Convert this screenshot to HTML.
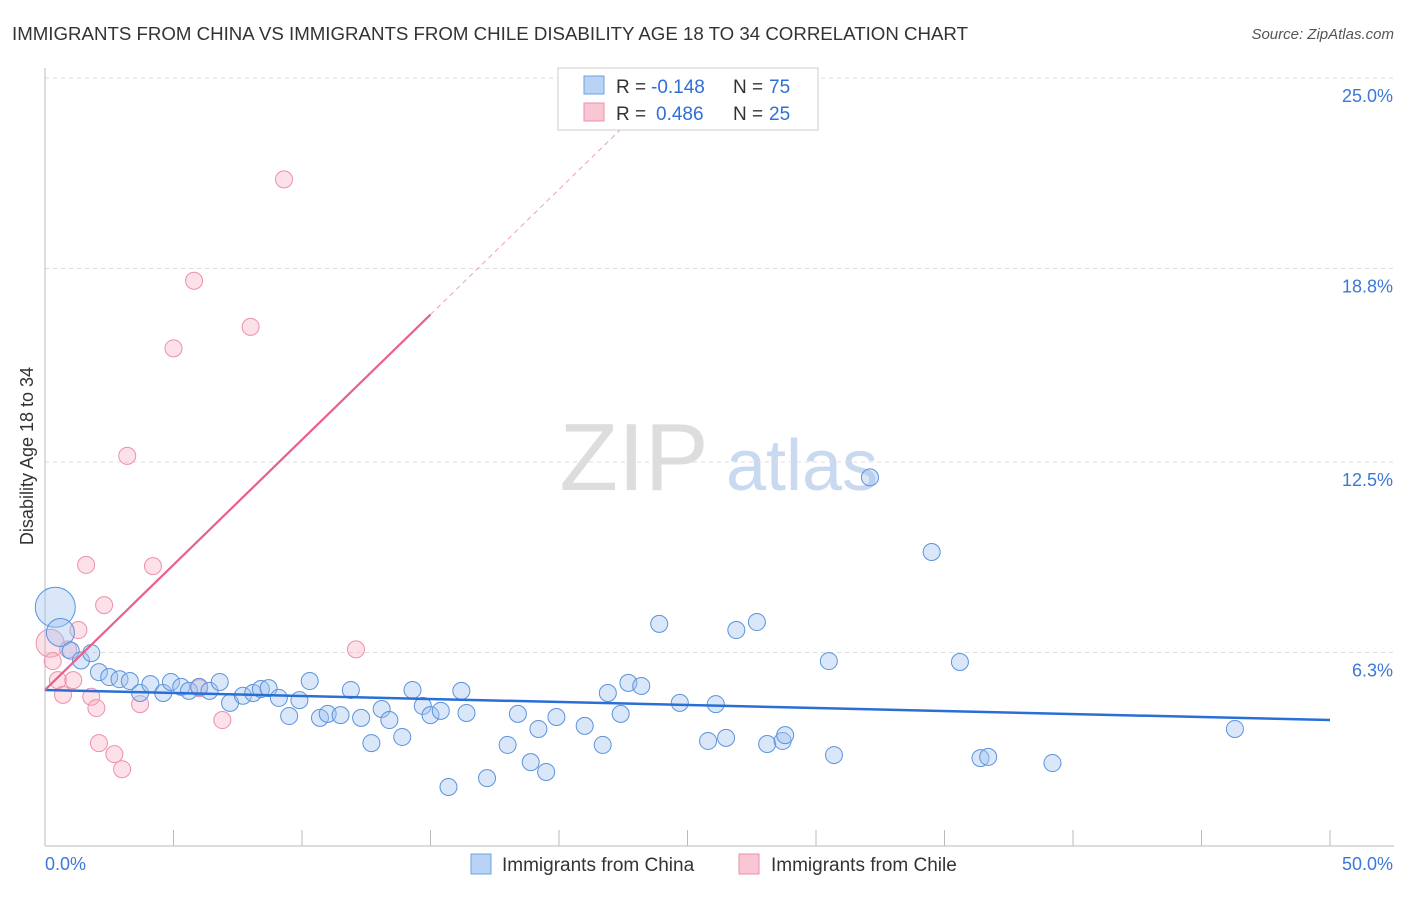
<!DOCTYPE html>
<html><head><meta charset="utf-8"><style>
body{margin:0;background:#fff;font-family:"Liberation Sans",sans-serif;}
svg text{font-family:"Liberation Sans",sans-serif;}
</style></head><body>
<svg width="1406" height="892" id="chart">
<text x="12" y="40" font-size="18" fill="#333" textLength="956" lengthAdjust="spacingAndGlyphs">IMMIGRANTS FROM CHINA VS IMMIGRANTS FROM CHILE DISABILITY AGE 18 TO 34 CORRELATION CHART</text>
<text x="1394" y="39" font-size="15" fill="#555" text-anchor="end" font-style="italic">Source: ZipAtlas.com</text>
<text x="33" y="456" font-size="18" fill="#333" text-anchor="middle" transform="rotate(-90 33 456)">Disability Age 18 to 34</text>
<g><text x="634" y="490" font-size="96" fill="#ddd" text-anchor="middle" font-family="Liberation Serif">ZIP</text><text x="802" y="490" font-size="72" fill="#c8d9f0" text-anchor="middle">atlas</text></g>
<g id="grid"></g><g id="axes"></g><g id="pts"></g><g id="lines"></g>
<g>
<rect x="558" y="68" width="260" height="62" fill="#fff" stroke="#ccc"/>
<rect x="584" y="76" width="20" height="18" fill="#b8d3f5" stroke="#6fa0e0"/>
<text x="616" y="93" font-size="19" fill="#333">R =</text>
<text x="651" y="93" font-size="19" fill="#2f6fd6">-0.148</text>
<text x="733" y="93" font-size="19" fill="#333">N =</text>
<text x="769" y="93" font-size="19" fill="#2f6fd6">75</text>
<rect x="584" y="103" width="20" height="18" fill="#f9c6d4" stroke="#ee8fab"/>
<text x="616" y="120" font-size="19" fill="#333">R =</text>
<text x="656" y="120" font-size="19" fill="#2f6fd6">0.486</text>
<text x="733" y="120" font-size="19" fill="#333">N =</text>
<text x="769" y="120" font-size="19" fill="#2f6fd6">25</text>
</g>
<g>
<rect x="471" y="854" width="20" height="20" fill="#b8d3f5" stroke="#6fa0e0"/>
<text x="502" y="871" font-size="19" fill="#333">Immigrants from China</text>
<rect x="739" y="854" width="20" height="20" fill="#f9c6d4" stroke="#ee8fab"/>
<text x="771" y="871" font-size="19" fill="#333">Immigrants from Chile</text>
</g>
</svg>
<script>
const yTicks=[25.0,18.8,12.5,6.3];
const yTickLabels=["25.0%","18.8%","12.5%","6.3%"];
const xTickLabels=["0.0%","50.0%"];
const chinaX=[0.4,0.6,1,1.4,1.8,2.1,2.5,2.9,3.3,3.7,4.1,4.6,4.9,5.3,5.6,6,6.4,6.8,7.2,7.7,8.1,8.4,8.7,9.1,9.5,9.9,10.3,10.7,11,11.5,11.9,12.3,12.7,13.1,13.4,13.9,14.3,14.7,15,15.4,15.7,16.2,16.4,17.2,18,18.4,18.9,19.2,19.5,19.9,21,21.7,21.9,22.4,22.7,23.2,23.9,24.7,25.8,26.1,26.5,26.9,27.7,28.1,28.7,28.8,30.5,30.7,32.1,34.5,35.6,36.4,36.7,39.2,46.3];
const chinaY=[7.77,6.95,6.36,6.04,6.28,5.66,5.5,5.43,5.37,4.98,5.27,4.98,5.34,5.18,5.05,5.18,5.05,5.34,4.66,4.89,4.98,5.11,5.14,4.82,4.23,4.75,5.37,4.17,4.3,4.26,5.08,4.17,3.35,4.46,4.1,3.55,5.08,4.56,4.26,4.4,1.92,5.05,4.33,2.21,3.29,4.3,2.73,3.81,2.41,4.2,3.91,3.29,4.98,4.3,5.31,5.21,7.23,4.66,3.42,4.62,3.52,7.03,7.29,3.32,3.42,3.61,6.02,2.96,12.0,9.57,5.99,2.86,2.9,2.7,3.81];
const chileX=[0.2,0.3,0.5,0.7,0.9,1.1,1.3,1.6,1.8,2,2.1,2.3,2.7,3,3.2,3.7,4.2,5,5.8,6,6.9,8,9.3,12.1];
const chileY=[6.6,6.02,5.4,4.92,6.4,5.4,7.03,9.15,4.86,4.49,3.35,7.84,2.99,2.5,12.7,4.62,9.11,16.2,18.4,5.14,4.1,16.9,21.7,6.4];
const chinaSizes=[20,14];
const X=v=>45+v/50*1285, Y=v=>846-v/6.25*192;
const NS="http://www.w3.org/2000/svg";
function mk(t,a,p){const e=document.createElementNS(NS,t);for(const k in a)e.setAttribute(k,a[k]);document.getElementById(p).appendChild(e);return e;}
yTicks.forEach((t,i)=>{
 const l=mk('line',{x1:45,x2:1394,y1:Y(t),y2:Y(t),stroke:'#ddd','stroke-dasharray':'4,4'},'grid');
 
 
 const tx=mk('text',{x:1393,y:Y(t)+24,'font-size':18,fill:'#3b78d8','text-anchor':'end'},'grid');tx.textContent=yTickLabels[i];
 
 
});
const ax=mk('line',{x1:45,x2:45,y1:68,y2:846,stroke:'#bbb'},'axes');


const bx=mk('line',{x1:45,x2:1394,y1:846,y2:846,stroke:'#bbb'},'axes');


for(let i=0;i<=10;i++){const t=mk('line',{x1:X(i*5),x2:X(i*5),y1:830,y2:846,stroke:'#bbb'},'axes');
 
 }
[[0,45,'start'],[50,1393,'end']].forEach((d,i)=>{const t=mk('text',{x:d[1],y:870,'font-size':18,fill:'#3b78d8','text-anchor':d[2]},'axes');t.textContent=xTickLabels[i];
 
 });
chileX.forEach((x,i)=>{const c=mk('circle',{cx:X(x),cy:Y(chileY[i]),r:i==0?14:8.5,fill:'rgba(246,168,190,0.35)',stroke:'#ee8fab','stroke-width':1},'pts');
 
 });
chinaX.forEach((x,i)=>{const c=mk('circle',{cx:X(x),cy:Y(chinaY[i]),r:chinaSizes[i]||8.5,fill:'rgba(160,195,240,0.4)',stroke:'#5b93dc','stroke-width':1},'pts');
 
 });
const bl=mk('line',{x1:X(0),y1:Y(5.08),x2:X(50),y2:Y(4.1),stroke:'#2a6fd6','stroke-width':2.5},'lines');


const p0=5.08,pk=(17.3-5.08)/15;
const pl=mk('line',{x1:X(0),y1:Y(p0),x2:X(15),y2:Y(p0+pk*15),stroke:'#e8608c','stroke-width':2.2},'lines');


const pd=mk('line',{x1:X(15),y1:Y(p0+pk*15),x2:X(22.5),y2:Y(p0+pk*22.5),stroke:'#f0a0b8','stroke-width':1,'stroke-dasharray':'5,4'},'lines');


</script>
</body></html>
